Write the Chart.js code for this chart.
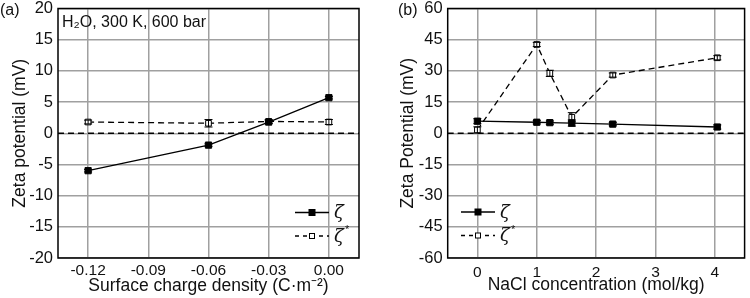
<!DOCTYPE html>
<html>
<head>
<meta charset="utf-8">
<script src="https://cdn.jsdelivr.net/npm/chart.js@4.4.1/dist/chart.umd.min.js"></script>
<style>
  body { margin: 0; background: #fff; }
  #wrap { position: relative; width: 750px; height: 298px; }
  canvas { position: absolute; top: 0; }
</style>
</head>
<body>
<div id="wrap">
  <canvas id="chartA" width="375" height="298" style="left:0"></canvas>
  <canvas id="chartB" width="375" height="298" style="left:375px"></canvas>
</div>
<script>
// Panel (a): zeta potential vs surface charge density
const chargeDensity = [-0.12, -0.06, -0.03, 0.00];
const zetaA = [-6.0, -1.9, 1.8, 5.7];
const zetaErrA = [0.2, 0.2, 0.2, 0.2];
const zetaStarA = [1.8, 1.6, 1.9, 1.8];
const zetaStarErrA = [0.3, 0.6, 0.3, 0.4];
const xTicksA = [-0.12, -0.09, -0.06, -0.03, 0.00];
const yTicksA = [-20, -15, -10, -5, 0, 5, 10, 15, 20];

// Panel (b): zeta potential vs NaCl concentration
const naclConc = [0, 1.0, 1.22, 1.59, 2.28, 4.04];
const zetaB = [5.8, 5.3, 5.1, 4.9, 4.4, 3.0];
const zetaErrB = [1.2, 0.8, 0.8, 1.5, 0.8, 1.0];
const zetaStarB = [1.6, 42.7, 28.8, 7.7, 28.0, 36.3];
const zetaStarErrB = [1.5, 1.0, 1.5, 2.2, 1.0, 1.0];
const xTicksB = [0, 1, 2, 3, 4];
const yTicksB = [-60, -45, -30, -15, 0, 15, 30, 45, 60];

const FONT = "'Liberation Sans', Arial, sans-serif";
const GRID = '#a0a0a0';

// zero line, error bars, frame, legend and labels
const framePlugin = {
    id: 'frame',
    beforeDatasetsDraw(chart) {
        const { ctx, chartArea: a, scales: { y } } = chart;
        const py = y.getPixelForValue(0);
        ctx.save();
        ctx.strokeStyle = '#000';
        ctx.lineWidth = 1.3;
        ctx.setLineDash([6, 4]);
        ctx.beginPath();
        ctx.moveTo(a.left, py);
        ctx.lineTo(a.right, py);
        ctx.stroke();
        ctx.restore();
    },
    afterDatasetsDraw(chart) {
        const { ctx, scales: { y } } = chart;
        ctx.save();
        ctx.strokeStyle = '#000';
        ctx.lineWidth = 1;
        chart.data.datasets.forEach((ds, di) => {
            const meta = chart.getDatasetMeta(di);
            meta.data.forEach((pt, i) => {
                const e = ds.errors[i];
                const top = y.getPixelForValue(ds.data[i].y + e);
                const bot = y.getPixelForValue(ds.data[i].y - e);
                ctx.beginPath();
                ctx.moveTo(pt.x, top); ctx.lineTo(pt.x, bot);
                ctx.moveTo(pt.x - 4, top); ctx.lineTo(pt.x + 4, top);
                ctx.moveTo(pt.x - 4, bot); ctx.lineTo(pt.x + 4, bot);
                ctx.stroke();
            });
        });
        ctx.restore();
    },
    afterDraw(chart, args, opts) {
        const { ctx, chartArea: a } = chart;
        ctx.save();
        // box
        ctx.strokeStyle = '#000';
        ctx.lineWidth = 1.5;
        ctx.strokeRect(a.left, a.top, a.right - a.left, a.bottom - a.top);

        // panel label
        ctx.fillStyle = '#111';
        ctx.font = '16px ' + FONT;
        ctx.textBaseline = 'alphabetic';
        ctx.textAlign = 'left';
        ctx.fillText(opts.panel, opts.panelX, 15);

        if (opts.note) {
            ctx.font = '16px ' + FONT;
            ctx.fillText(opts.note, a.left + 4, 27);
        }

        // legend
        chart.data.datasets.forEach((ds, di) => {
            const lx = a.left + opts.legendX;
            const ly = a.top + opts.legendY + di * 23.5;
            ctx.strokeStyle = '#000';
            ctx.lineWidth = 1.3;
            ctx.setLineDash(ds.borderDash.length ? [4, 4] : []);
            ctx.beginPath();
            ctx.moveTo(lx, ly);
            ctx.lineTo(lx + 34, ly);
            ctx.stroke();
            ctx.setLineDash([]);
            const s = di === 0 ? 6 : 5;
            ctx.fillStyle = ds.pointBackgroundColor;
            ctx.fillRect(lx + 17 - s / 2, ly - s / 2, s, s);
            ctx.lineWidth = 1;
            ctx.strokeRect(lx + 17 - s / 2, ly - s / 2, s, s);
            ctx.fillStyle = '#111';
            ctx.font = 'italic 18px "DejaVu Serif", serif';
            ctx.textBaseline = 'middle';
            ctx.fillText('\u03B6', lx + 39, ly + 1);
            if (di === 1) {
                ctx.font = '11px ' + FONT;
                ctx.fillText('*', lx + 50, ly - 6);
            }
        });
        ctx.restore();
    }
};

const makeChart = (id, xs, ys, errs, ysStar, errsStar, cfg) => {
    const zeta = xs.map((x, i) => ({ x, y: ys[i] }));
    const zetaStar = xs.map((x, i) => ({ x, y: ysStar[i] }));
    return new Chart(document.getElementById(id), {
        type: 'line',
        data: {
            datasets: [
                {
                    label: 'ζ',
                    data: zeta,
                    errors: errs,
                    borderColor: '#000',
                    borderWidth: 1.3,
                    borderDash: [],
                    pointStyle: 'rect',
                    pointRadius: 4.4,
                    pointBackgroundColor: '#000',
                    pointBorderColor: '#000',
                    pointBorderWidth: 1,
                    tension: 0
                },
                {
                    label: 'ζ*',
                    data: zetaStar,
                    errors: errsStar,
                    borderColor: '#000',
                    borderWidth: 1.3,
                    borderDash: [6, 4],
                    pointStyle: 'rect',
                    pointRadius: 4,
                    pointBackgroundColor: '#fff',
                    pointBorderColor: '#000',
                    pointBorderWidth: 1,
                    tension: 0
                }
            ]
        },
        options: {
            responsive: false,
            animation: false,
            devicePixelRatio: 1,
            layout: { padding: { top: 8.5, right: cfg.padRight, bottom: 0, left: 0 } },
            plugins: {
                legend: { display: false },
                tooltip: { enabled: false },
                frame: cfg.frame
            },
            scales: {
                x: {
                    type: 'linear',
                    min: cfg.xMin,
                    max: cfg.xMax,
                    afterBuildTicks: (scale) => { scale.ticks = cfg.xTicks.map(v => ({ value: v })); },
                    afterFit: (scale) => {
                        scale.height = 40;
                        scale.paddingLeft = 0;
                        scale.paddingRight = 0;
                    },
                    grid: { color: GRID, lineWidth: 1.5, drawTicks: false },
                    border: { display: false },
                    ticks: {
                        padding: cfg.xTickPad,
                        color: '#111',
                        font: { family: FONT, size: 15.5 },
                        callback: cfg.xFormat
                    },
                    title: {
                        display: true,
                        text: cfg.xTitle,
                        color: '#111',
                        font: { family: FONT, size: 17.5 },
                        padding: { top: 0, bottom: cfg.xTitlePad }
                    }
                },
                y: {
                    type: 'linear',
                    min: cfg.yTicks[0],
                    max: cfg.yTicks[cfg.yTicks.length - 1],
                    afterBuildTicks: (scale) => { scale.ticks = cfg.yTicks.map(v => ({ value: v })); },
                    afterFit: (scale) => {
                        scale.width = cfg.yWidth;
                        scale.paddingTop = 0;
                        scale.paddingBottom = 0;
                    },
                    grid: { color: GRID, lineWidth: 1.5, drawTicks: false },
                    border: { display: false },
                    ticks: {
                        padding: 5,
                        color: '#111',
                        font: { family: FONT, size: 16.5 }
                    },
                    title: {
                        display: true,
                        text: cfg.yTitle,
                        color: '#111',
                        font: { family: FONT, size: 17.5 },
                        padding: { top: cfg.yTitlePad, bottom: 0 }
                    }
                }
            }
        },
        plugins: [framePlugin]
    });
};

makeChart('chartA', chargeDensity, zetaA, zetaErrA, zetaStarA, zetaStarErrA, {
    xMin: -0.135, xMax: 0.015, xTicks: xTicksA, yTicks: yTicksA,
    xFormat: (v) => Number(v).toFixed(2),
    xTitle: 'Surface charge density (C\u00B7m\u207B\u00B2)',
    yTitle: 'Zeta potential (mV)',
    yWidth: 58, yTitlePad: 10, padRight: 16, xTickPad: 3.5, xTitlePad: 1,
    frame: { panel: '(a)', panelX: 0, note: 'H\u2082O, 300 K, 600 bar', legendX: 237, legendY: 204 }
});

makeChart('chartB', naclConc, zetaB, zetaErrB, zetaStarB, zetaStarErrB, {
    xMin: -0.5, xMax: 4.5, xTicks: xTicksB, yTicks: yTicksB,
    xFormat: (v) => String(v),
    xTitle: 'NaCl concentration (mol/kg)',
    yTitle: 'Zeta Potential (mV)',
    yWidth: 72.7, yTitlePad: 23, padRight: 2, xTickPad: 5, xTitlePad: 2.5,
    frame: { panel: '(b)', panelX: 23, note: null, legendX: 13.3, legendY: 203.5 }
});
</script>
</body>
</html>
